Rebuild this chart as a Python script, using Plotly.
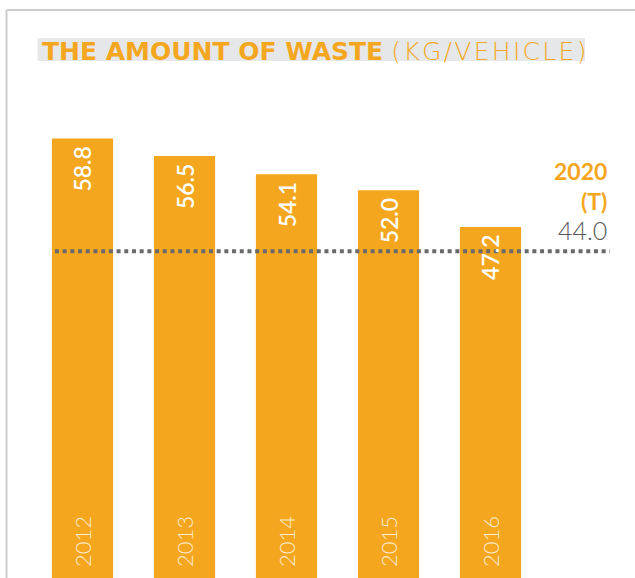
import plotly.graph_objects as go

# ---- data ----
years = ["2012", "2013", "2014", "2015", "2016"]
waste = [58.8, 56.5, 54.1, 52.0, 47.2]
target_year = "2020"
target_tag = "(T)"
target_value = 44.0
title_main = "THE AMOUNT OF WASTE"
title_unit = "(KG/VEHICLE)"

ORANGE = "#F4A71E"
W, H = 635, 578

fig = go.Figure()
fig.add_trace(go.Bar(
    x=years, y=waste, width=0.6,
    marker=dict(color=ORANGE, line=dict(width=0)),
    hoverinfo="skip",
))

def px_x(p):
    return p / W

def px_y(p):
    return 1 - p / H

ann = []
for i, (yr, v) in enumerate(zip(years, waste)):
    # value labels inside top of bars
    ann.append(dict(
        x=i, y=v, xref="x", yref="y", text=f"{v:.1f}", showarrow=False,
        textangle=-90, xanchor="center", yanchor="top", yshift=-6,
        font=dict(family="Lato", size=23, color="white", weight=600),
    ))
    # year labels at the bottom of the bars
    ann.append(dict(
        x=i, y=0, xref="x", yref="paper", text=yr, showarrow=False,
        textangle=-90, xanchor="center", yanchor="bottom", yshift=9,
        font=dict(family="Lato", size=22, color="rgba(255,255,255,0.78)", weight=300),
    ))

# target text
ann.append(dict(x=px_x(609), y=px_y(186), xref="paper", yref="paper",
                text=f"<b>{target_year}</b><br><b>{target_tag}</b>", showarrow=False,
                align="right", xanchor="right", yanchor="middle",
                font=dict(family="Lato", size=23, color=ORANGE)))
ann.append(dict(x=px_x(609), y=px_y(230), xref="paper", yref="paper",
                text=f"{target_value:.1f}", showarrow=False,
                xanchor="right", yanchor="middle",
                font=dict(family="Lato", size=25, color="#595959", weight=300)))
# title
ann.append(dict(x=px_x(40), y=px_y(51.5), xref="paper", yref="paper",
                text=(f"<span style='font-weight:800'>{title_main}</span> "
                      f"<span style='font-weight:300;letter-spacing:2.3px'>{title_unit}</span>"),
                showarrow=False, xanchor="left", yanchor="middle",
                font=dict(family="DejaVu Sans", size=25, color=ORANGE)))

shapes = [
    # title highlight
    dict(type="rect", xref="paper", yref="paper", x0=px_x(37.5), x1=px_x(585),
         y0=px_y(38.3), y1=px_y(61), fillcolor="#E6E7E8", line=dict(width=0), layer="below"),
    # frame
    dict(type="line", xref="paper", yref="paper", x0=px_x(6.5), x1=1.0,
         y0=px_y(10), y1=px_y(10), line=dict(color="#CDCDCD", width=2)),
    dict(type="line", xref="paper", yref="paper", x0=px_x(6.5), x1=px_x(6.5),
         y0=px_y(10), y1=0, line=dict(color="#CDCDCD", width=2)),
    # target dotted line
    dict(type="line", xref="x", yref="y", x0=-0.27, x1=5.17, y0=target_value, y1=target_value,
         line=dict(color="#6A6A6A", width=4, dash="4px,3.7px"), layer="above"),
]

fig.update_layout(
    width=W, height=H,
    margin=dict(l=0, r=0, t=0, b=0),
    paper_bgcolor="white", plot_bgcolor="white",
    showlegend=False,
    bargap=0.4,
    xaxis=dict(type="category", range=[-0.8088, 5.4167], visible=False, fixedrange=True),
    yaxis=dict(range=[1.116, 76.99], visible=False, fixedrange=True),
    annotations=ann,
    shapes=shapes,
)

fig.write_html(
    "out.html",
    config={"displayModeBar": False},
    post_script="document.body.style.margin='0';document.body.style.overflow='hidden';",
)
